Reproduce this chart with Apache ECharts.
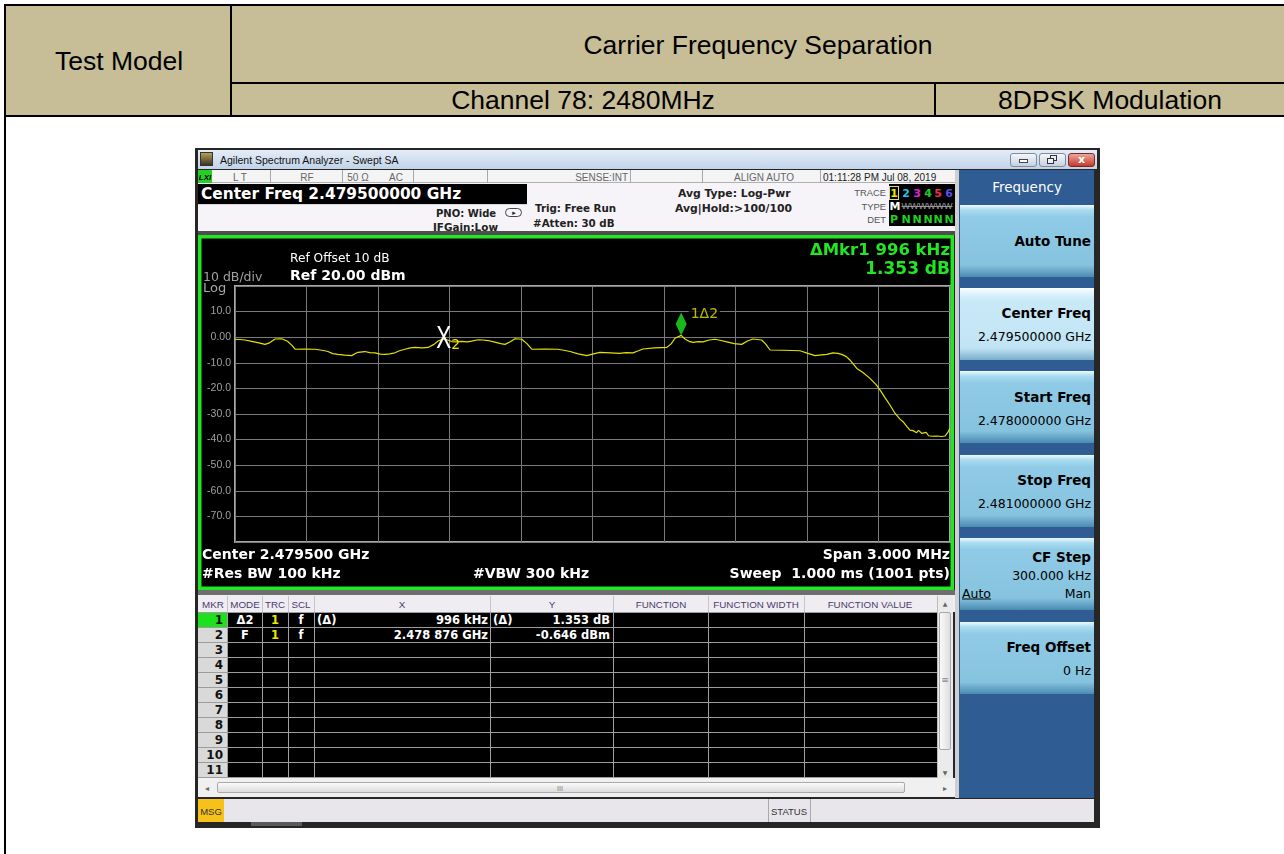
<!DOCTYPE html>
<html>
<head>
<meta charset="utf-8">
<title>Carrier Frequency Separation</title>
<script src="https://cdn.jsdelivr.net/npm/echarts@6.0.0/dist/echarts.min.js"></script>
<style>
html,body{margin:0;padding:0;}
body{width:1284px;height:854px;overflow:hidden;background:#fff;position:relative;font-family:"Liberation Sans",Arial,sans-serif;}
.a{position:absolute;box-sizing:border-box;}
#chart{position:absolute;left:198px;top:235px;width:756px;height:355px;}
</style>
</head>
<body>
<div id="chart"></div>
<script>
// ===== chart data =====
const freqMHz = [
  2478.000,2478.020,2478.042,2478.070,2478.100,2478.126,2478.145,2478.168,2478.196,2478.220,
  2478.240,2478.252,2478.290,2478.336,2478.365,2478.390,2478.410,2478.432,2478.460,2478.490,
  2478.505,2478.516,2478.545,2478.566,2478.587,2478.610,2478.629,2478.650,2478.671,2478.690,
  2478.713,2478.735,2478.755,2478.785,2478.810,2478.835,2478.852,2478.876,2478.895,2478.909,
  2478.930,2478.951,2478.975,2478.993,2479.020,2479.040,2479.062,2479.090,2479.115,2479.133,
  2479.155,2479.175,2479.203,2479.225,2479.245,2479.300,2479.355,2479.385,2479.406,2479.440,
  2479.476,2479.500,2479.531,2479.575,2479.615,2479.640,2479.670,2479.690,2479.712,2479.760,
  2479.811,2479.830,2479.846,2479.872,2479.888,2479.905,2479.922,2479.945,2479.964,2479.990,
  2480.014,2480.040,2480.063,2480.095,2480.126,2480.150,2480.173,2480.210,2480.228,2480.245,
  2480.300,2480.371,2480.400,2480.434,2480.460,2480.483,2480.509,2480.530,2480.546,2480.565,
  2480.580,2480.609,2480.635,2480.664,2480.690,2480.706,2480.730,2480.748,2480.769,2480.790,
  2480.803,2480.820,2480.832,2480.845,2480.860,2480.868,2480.874,2480.882,2480.887,2480.900,
  2480.910,2480.925,2480.944,2480.965,2480.979,2480.990,2481.000
];
const levelDbm = [
  -0.8,-0.9,-1.1,-1.6,-2.2,-2.8,-2.2,-0.7,-0.6,-1.6,
  -3.3,-4.7,-4.6,-4.7,-5.1,-5.6,-6.4,-6.7,-7.0,-7.2,
  -6.4,-5.9,-5.6,-6.0,-6.1,-6.6,-6.7,-6.5,-6.1,-5.3,
  -4.7,-4.2,-4.0,-4.2,-4.0,-2.8,-1.5,-0.646,-1.2,-1.7,
  -1.8,-1.6,-1.8,-1.5,-1.0,-1.1,-1.3,-1.9,-2.5,-2.8,
  -1.8,-0.6,-0.8,-2.5,-4.7,-4.6,-4.7,-5.2,-5.6,-6.5,
  -7.2,-6.6,-5.9,-6.1,-6.3,-6.0,-6.1,-5.4,-4.6,-4.2,
  -4.0,-2.6,-0.4,0.707,-0.7,-1.6,-2.0,-1.7,-1.8,-1.1,
  -0.8,-1.3,-1.8,-2.5,-2.8,-1.5,-0.7,-1.1,-2.8,-5.0,
  -5.1,-5.3,-6.2,-7.2,-6.9,-6.7,-6.1,-6.3,-6.7,-7.6,
  -8.9,-12.2,-13.8,-16.1,-18.5,-20.6,-24.0,-26.5,-29.7,-32.0,
  -33.0,-35.0,-36.3,-36.5,-37.3,-36.4,-36.0,-37.6,-38.0,-37.2,
  -38.5,-38.7,-38.6,-38.8,-38.6,-37.3,-35.6
];
const markerFreqMHz = [2479.872, 2478.876];
const markerLevelDbm = [0.707, -0.646];
const yTickValues = [20, 10, 0, -10, -20, -30, -40, -50, -60, -70, -80];
const yTickLabels = ['', '10.0', '0.00', '-10.0', '-20.0', '-30.0', '-40.0', '-50.0', '-60.0', '-70.0', ''];
const xStartMHz = 2478, xStopMHz = 2481, xDivMHz = 0.3;
const tableMode = ['Δ2', 'F'];
const tableX = ['996 kHz', '2.478 876 GHz'];
const tableY = ['1.353 dB', '-0.646 dBm'];

// ===== page chrome =====
const chartDom = document.getElementById('chart');
const DV = '"DejaVu Sans",sans-serif';
const LS = '"Liberation Sans",Arial,sans-serif';
function add(css, html){ const d=document.createElement('div'); d.className='a'; d.style.cssText=css; if(html!==undefined) d.innerHTML=html; document.body.insertBefore(d, chartDom); return d; }
function box(x,y,w,h,bg,extra){ return add(`left:${x}px;top:${y}px;width:${w}px;height:${h}px;background:${bg};${extra||''}`); }
function txt(s,x,y,font,color,align,extra){
  const tx = align==='right'?'-100%':align==='center'?'-50%':'0';
  return add(`left:${x}px;top:${y}px;transform:translate(${tx},-50%);white-space:nowrap;line-height:1.15;font:${font};color:${color};${extra||''}`, s);
}

// report table header
box(5,5,1279,111,'#c7bd96');
box(4,4,1280,2,'#000');
box(4,4,2,850,'#000');
box(230,4,2,112,'#000');
box(231,82,1053,2,'#000');
box(4,115,1280,2,'#000');
box(934,83,2,33,'#000');
const HDR=`26.5px ${LS}`;
txt('Test Model',119,61,HDR,'#000','center');
txt('Carrier Frequency Separation',758,45,HDR,'#000','center');
txt('Channel 78: 2480MHz',583,100,HDR,'#000','center');
txt('8DPSK Modulation',1110,100,HDR,'#000','center');

// analyzer window
box(195,148,905,680,'#262626');
box(198,150,899,19,'linear-gradient(#e4edf8,#c2d3e8)');
box(200,152,13,14,'linear-gradient(#b6a055,#3b3522)','border:1px solid #333');
txt('Agilent Spectrum Analyzer - Swept SA',220,159.5,`10.5px ${LS}`,'#111','left');
box(1010,153,27,14,'linear-gradient(#f4f7fb,#c6d1df)','border:1px solid #7d8ba0;border-radius:3px');
box(1019,159,9,4,'#fff','border:1px solid #444');
box(1039,153,27,14,'linear-gradient(#f4f7fb,#c6d1df)','border:1px solid #7d8ba0;border-radius:3px');
box(1050,155,7,6,'transparent','border:1px solid #333');
box(1047,158,7,6,'#eef','border:1px solid #333');
box(1068,153,27,14,'linear-gradient(#eaa79c,#c23c2e)','border:1px solid #7a2a22;border-radius:3px');
txt('x',1081.5,159,`bold 11px ${DV}`,'#fff','center');

// status row
box(198,170,757,13,'#f4f4f4','border-bottom:1px solid #b0b0b0');
box(198,170,14,13,'#25d025');
txt('LXI',205,176.5,`italic bold 8px ${LS}`,'#000','center');
[270,342,413,487,630,702,820].forEach(x=>box(x,170,1,13,'#a8a8a8'));
txt('L T',240,176.5,`10px ${LS}`,'#666','center');
txt('RF',307,176.5,`10px ${LS}`,'#666','center');
txt('50 Ω',358,176.5,`10px ${LS}`,'#666','center');
txt('AC',396,176.5,`10px ${LS}`,'#666','center');
txt('SENSE:INT',628,176.5,`10px ${LS}`,'#666','right');
txt('ALIGN AUTO',764,176.5,`10px ${LS}`,'#666','center');
txt('01:11:28 PM Jul 08, 2019',823,176.5,`10px ${LS}`,'#222','left');

// info panel
box(198,183,757,48,'#f6f4f8');
box(198,184,329,20,'#000');
txt('Center Freq 2.479500000 GHz',201,194,`bold 15.4px ${DV}`,'#fff','left');
box(198,204,329,1,'#d8d8d8');
txt('PNO: Wide',436,212.5,`bold 10px ${DV}`,'#222','left');
box(505,208,17,9,'transparent','border:1px solid #444;border-radius:5px');
txt('▸',514,212.5,`7px ${DV}`,'#222','center');
txt('IFGain:Low',433,227,`bold 10.4px ${DV}`,'#222','left');
txt('Trig: Free Run',535,208,`bold 10.3px ${DV}`,'#222','left');
txt('#Atten: 30 dB',533,222.5,`bold 10.3px ${DV}`,'#222','left');
txt('Avg Type: Log-Pwr',678,192.5,`bold 10.8px ${DV}`,'#222','left');
txt('Avg|Hold:&gt;100/100',675,208,`bold 10.8px ${DV}`,'#222','left');
txt('TRACE',886,192,`9.4px ${LS}`,'#555','right');
txt('TYPE',886,205.5,`9.4px ${LS}`,'#555','right');
txt('DET',886,219,`9.4px ${LS}`,'#555','right');
box(889,184,66,42,'#000');
box(889,186,10,14,'transparent','border:1px solid #d8d890');
const trColors=['#e8e800','#1ec8e6','#e020e0','#20d020','#f03050','#5a50f0'];
const trX=[894,906,917,928,938,949];
trX.forEach((x,i)=>txt(String(i+1),x,192.5,`bold 11px ${DV}`,trColors[i],'center'));
txt('M',895,205.5,`bold 11px ${DV}`,'#fff','center');
txt('WWWWWW',927,205.5,`9px ${LS}`,'#9a9a9a','center','text-decoration:line-through;');
txt('P',894,219,`bold 11px ${DV}`,'#20d020','center');
trX.slice(1).forEach(x=>txt('N',x,219,`bold 11px ${DV}`,'#20d020','center'));
box(198,231,757,4,'#4e4e4e');

// right soft-key panel
box(955,170,4,628,'#cfcfcf');
box(959,170,135,628,'#2e5c93');
txt('Frequency',1027,187,`13.5px ${DV}`,'#fff','center');
const btnNormal='linear-gradient(180deg,#eef9fe 0px,#a9dcf0 5px,#8fcbe6 12px,#86c3df 60px,#4a8bb2 72px)';
const btnSel='linear-gradient(180deg,#ffffff 0px,#e0f4fb 5px,#c9e9f7 12px,#c1e4f4 60px,#78aece 72px)';
const btnTops=[205,288,371,455,538,622];
btnTops.forEach((t,i)=>box(960,t,134,72,i===1?btnSel:btnNormal));
const BT=`bold 13.5px ${DV}`, BV=`12.5px ${DV}`;
txt('Auto Tune',1091,241,BT,'#000','right');
txt('Center Freq',1091,313,BT,'#000','right');
txt('2.479500000 GHz',1091,336,BV,'#000','right');
txt('Start Freq',1091,397,BT,'#000','right');
txt('2.478000000 GHz',1091,420,BV,'#000','right');
txt('Stop Freq',1091,480,BT,'#000','right');
txt('2.481000000 GHz',1091,503,BV,'#000','right');
txt('CF Step',1091,557,BT,'#000','right');
txt('300.000 kHz',1091,575,BV,'#000','right');
txt('Auto',962,593,BV,'#000','left','text-decoration:underline;');
txt('Man',1091,593,BV,'#000','right');
txt('Freq Offset',1091,647,BT,'#000','right');
txt('0 Hz',1091,670,BV,'#000','right');

// marker table
box(198,590,757,5,'#6e6e6e');
box(198,595,757,17,'#efedf2');
[227,262,288,314,490,613,708,804,937].forEach(x=>box(x,596,1,16,'#c4c4cc'));
const HF=`9.8px ${LS}`, HC='#4b3b6b';
[['MKR',213],['MODE',245],['TRC',275],['SCL',301],['X',402],['Y',552],['FUNCTION',661],['FUNCTION WIDTH',756],['FUNCTION VALUE',870]]
  .forEach(h=>txt(h[0],h[1],604,HF,HC,'center'));
box(198,612,739,166,'#000');
for(let i=0;i<11;i++){
  box(198,612+15*i,29,15,i===0?'#1fe01f':'#d9d9d9');
}
for(let i=0;i<=11;i++) box(198,612+15*i,739,1,'#9c9c9c');
[227,262,288,314,490,613,708,804].forEach(x=>box(x,612,1,166,'#a0a0a0'));
for(let i=0;i<11;i++) txt(String(i+1),223,620+15*i,`bold 12px ${DV}`,'#111','right');
const RF=`bold 11.5px ${DV}`;
for(let r=0;r<tableMode.length;r++){
  const y=620+15*r;
  txt(tableMode[r],245,y,RF,'#fff','center');
  txt('1',275,y,RF,'#e8e800','center');
  txt('f',301,y,RF,'#fff','center');
  if(r===0){ txt('(Δ)',317,y,RF,'#fff','left'); txt('(Δ)',493,y,RF,'#fff','left'); }
  txt(tableX[r],488,y,RF,'#fff','right');
  txt(tableY[r],610,y,RF,'#fff','right');
}
box(937,596,16,182,'#ebebeb','border-left:1px solid #bbb');
txt('▲',945,603,`6px ${DV}`,'#666','center');
box(939,612,12,138,'linear-gradient(90deg,#fafafa,#dedede)','border:1px solid #a9a9a9;border-radius:2px');
txt('≡',945,680,`9px ${DV}`,'#888','center');
txt('▼',945,772,`6px ${DV}`,'#666','center');
box(198,778,757,19,'#f0f0f0');
box(217,782,688,11,'linear-gradient(#fbfbfb,#dcdcdc)','border:1px solid #a9a9a9;border-radius:2px');
txt('◂',207,787.5,`8px ${DV}`,'#666','center');
txt('▸',945,787.5,`8px ${DV}`,'#666','center');
txt('III',560,787.5,`7px ${LS}`,'#777','center');
box(198,799,896,23,'#e8e6ea');
box(198,799,26,23,'#f6c21a');
txt('MSG',211,810.5,`9.5px ${LS}`,'#333','center');
box(768,799,1,23,'#aaa'); box(810,799,1,23,'#aaa');
txt('STATUS',789,810.5,`9.5px ${LS}`,'#333','center');
box(251,822,51,4,'#5a5a5a');

// ===== ECharts plot =====
const chart = echarts.init(chartDom, null, {renderer:'canvas'});
const DVF='DejaVu Sans';
const option = {
  backgroundColor:'#000',
  animation:false,
  grid:{left:37, top:51, width:715, height:256, show:true, borderColor:'#a8a8a8', borderWidth:2, backgroundColor:'transparent'},
  xAxis:{type:'value', min:xStartMHz, max:xStopMHz, interval:xDivMHz,
    axisLine:{show:false}, axisTick:{show:false}, axisLabel:{show:false},
    splitLine:{show:true, lineStyle:{color:'#7a7a7a', width:1}}},
  yAxis:{type:'value', min:yTickValues[yTickValues.length-1], max:yTickValues[0], interval:10,
    axisLine:{show:false}, axisTick:{show:false},
    axisLabel:{show:true, margin:4, color:'#a0a0a0', fontFamily:'Liberation Sans', fontSize:10.5,
      formatter:v=>{const i=yTickValues.indexOf(Math.round(v)); return i>=0?yTickLabels[i]:'';}},
    splitLine:{show:true, lineStyle:{color:'#7a7a7a', width:1}}},
  series:[
    {type:'line', data:freqMHz.map((f,i)=>[f,levelDbm[i]]), showSymbol:false, symbol:'none',
     lineStyle:{color:'#e2e200', width:1.2}, silent:true, z:3},
    {type:'scatter', data:[[markerFreqMHz[0], markerLevelDbm[0]]], symbol:'diamond', symbolSize:[11,23], symbolOffset:[0,-11.5],
     itemStyle:{color:'#22e622'}, silent:true, z:5,
     label:{show:true, formatter:'1Δ2', position:'right', distance:2, offset:[0,-10], color:'#e6e600',
       fontFamily:DVF, fontSize:14, backgroundColor:'#000', padding:[1,2]}},
    {type:'custom', data:[[markerFreqMHz[1], markerLevelDbm[1]]], silent:true, z:6,
     renderItem:(params, api)=>{
       const p = api.coord([api.value(0), api.value(1)]);
       return {type:'group', children:[
         {type:'text', x:p[0], y:p[1], scaleX:0.7, style:{text:'X', fill:'#ffffff', font:'32px "Liberation Sans"', align:'center', verticalAlign:'middle'}},
         {type:'text', x:p[0]+12, y:p[1]+7, style:{text:'2', fill:'#e6e600', font:'14px "DejaVu Sans"', align:'center', verticalAlign:'middle'}}
       ]};
     }}
  ],
  graphic:[
    {type:'rect', silent:true, z:100, shape:{x:1.75,y:1.75,width:752.5,height:351.5}, style:{fill:'none', stroke:'#22e622', lineWidth:3.5}},
    {type:'text', x:92, y:24, style:{text:'Ref Offset 10 dB', fill:'#fff', font:'12.2px "DejaVu Sans"', verticalAlign:'middle'}},
    {type:'text', x:92, y:41, style:{text:'Ref 20.00 dBm', fill:'#fff', font:'bold 14px "DejaVu Sans"', verticalAlign:'middle'}},
    {type:'text', x:5, y:43, style:{text:'10 dB/div', fill:'#a0a0a0', font:'12.5px "DejaVu Sans"', verticalAlign:'middle'}},
    {type:'text', x:5, y:53.5, style:{text:'Log', fill:'#a8a8a8', font:'13px "DejaVu Sans"', verticalAlign:'middle'}},
    {type:'text', x:752, y:16, style:{text:'ΔMkr1 996 kHz', fill:'#22e622', font:'bold 16.5px "DejaVu Sans"', align:'right', verticalAlign:'middle'}},
    {type:'text', x:752, y:35, style:{text:'1.353 dB', fill:'#22e622', font:'bold 17px "DejaVu Sans"', align:'right', verticalAlign:'middle'}},
    {type:'text', x:4, y:320.5, style:{text:'Center 2.479500 GHz', fill:'#fff', font:'bold 14px "DejaVu Sans"', verticalAlign:'middle'}},
    {type:'text', x:4, y:339, style:{text:'#Res BW 100 kHz', fill:'#fff', font:'bold 14px "DejaVu Sans"', verticalAlign:'middle'}},
    {type:'text', x:275, y:339, style:{text:'#VBW 300 kHz', fill:'#fff', font:'bold 14px "DejaVu Sans"', verticalAlign:'middle'}},
    {type:'text', x:752, y:320.5, style:{text:'Span 3.000 MHz', fill:'#fff', font:'bold 14px "DejaVu Sans"', align:'right', verticalAlign:'middle'}},
    {type:'text', x:752, y:339, style:{text:'Sweep  1.000 ms (1001 pts)', fill:'#fff', font:'bold 14px "DejaVu Sans"', align:'right', verticalAlign:'middle'}}
  ]
};
chart.setOption(option);
</script>
</body>
</html>
